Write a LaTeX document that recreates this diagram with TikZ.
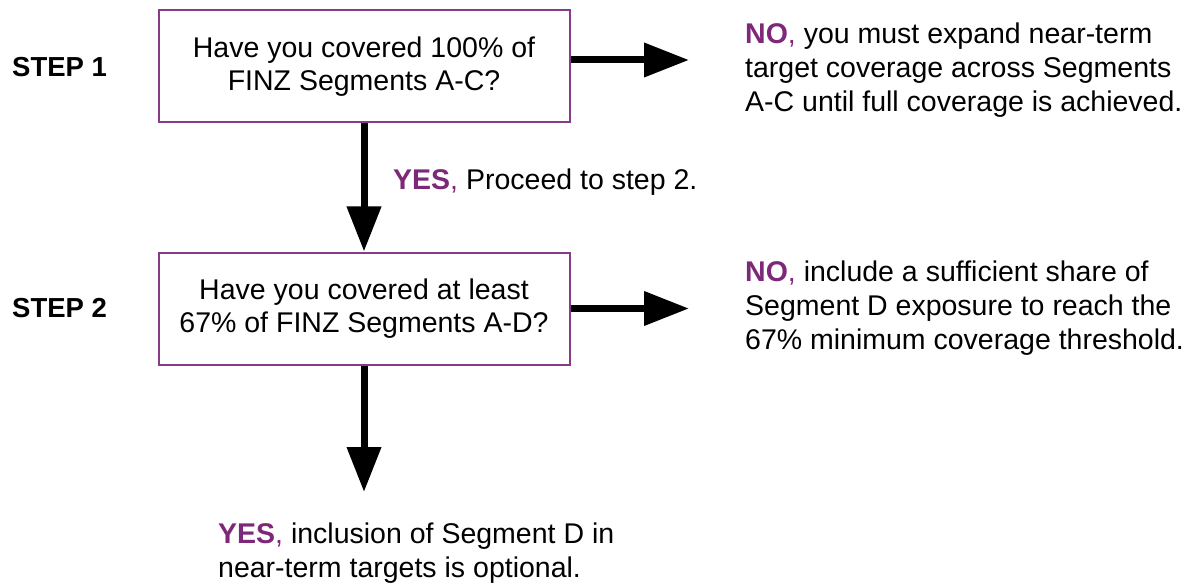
\documentclass[tikz,border=0pt]{standalone}
\usepackage{fontspec}
\setmainfont{Liberation Sans}
\usetikzlibrary{arrows.meta}
\definecolor{plum}{RGB}{125,40,120}
\definecolor{boxplum}{RGB}{135,60,135}
\tikzset{
  qbox/.style={draw=boxplum, line width=2pt, fill=white, minimum width=411pt, minimum height=112pt, inner sep=0pt, align=center, font=\fontsize{28.5}{33}\selectfont},
  txt/.style={align=left, inner sep=0pt, anchor=west, font=\fontsize{28.5}{34}\selectfont},
  steplbl/.style={inner sep=0pt, anchor=west, font=\fontsize{27.5}{33}\selectfont\bfseries},
  bigarrow/.style={line width=7pt, -{Triangle[length=45pt,width=33pt]}}
}
\newcommand{\yes}{\textcolor{plum}{\textbf{YES},}}
\newcommand{\nno}{\textcolor{plum}{\textbf{NO},}}
\begin{document}
\begin{tikzpicture}[x=1pt,y=-1pt]
\useasboundingbox (0,0) rectangle (1190,585);
\node[qbox] (b1) at (364,66.5) {Have you covered 100\% of\\FINZ Segments A-C?};
\node[qbox] (b2) at (364,308.5) {Have you covered at least\\67\% of FINZ Segments A-D?};
\node[steplbl] (s1) at (12,67) {STEP 1};
\node[steplbl] (s2) at (12,308) {STEP 2};
\node[txt] (no1) at (745,70) {\nno{} you must expand near-term\\target coverage across Segments\\A-C until full coverage is achieved.};
\node[txt] (no2) at (745,308) {\nno{} include a sufficient share of\\Segment D exposure to reach the\\67\% minimum coverage threshold.};
\node[txt] (y1) at (393,182) {\yes{} Proceed to step 2.};
\node[txt] (y2) at (218,553) {\yes{} inclusion of Segment D in\\near-term targets is optional.};
\coordinate (t1) at (689,60);
\coordinate (t2) at (689,308.5);
\coordinate (t3) at (364,492);
\draw[bigarrow] (b1.east |- t1) -- (t1);
\draw[bigarrow] (b2.east) -- (t2);
\draw[bigarrow] (b1.south) -- (b2.north);
\draw[bigarrow] (b2.south) -- (t3);
\end{tikzpicture}
\end{document}
